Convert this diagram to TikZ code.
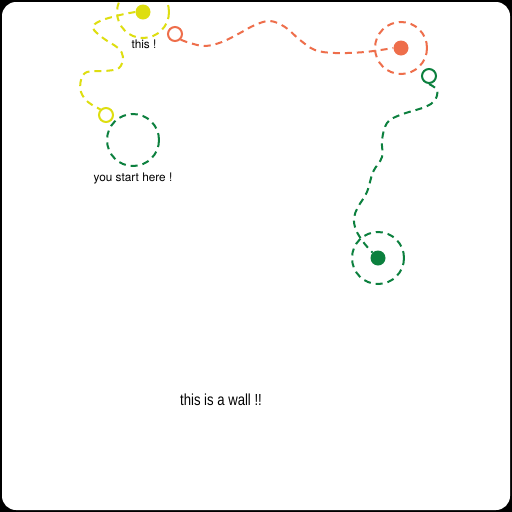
\documentclass[tikz,border=0pt]{standalone}
\usepackage{fontspec}
\setmainfont{TeX Gyre Heros}
\newfontfamily\wallfont[FakeStretch=0.82]{Liberation Sans}
\begin{document}
\begin{tikzpicture}[x=1pt,y=-1pt,
  ring/.style={circle,draw=#1,line width=2pt,minimum size=14pt,inner sep=0pt},
  dot/.style={circle,fill=#1,minimum size=15pt,inner sep=0pt},
  halo/.style={circle,draw=#1,line width=2pt,dash pattern=on 7pt off 5pt,minimum size=52pt,inner sep=0pt},
  trail/.style={draw=#1,line width=2pt,dash pattern=on 7pt off 5pt},
  lbl/.style={font=\fontsize{11.8}{13}\selectfont,text=black,inner sep=0pt}]
\definecolor{cy}{RGB}{222,222,16}
\definecolor{co}{RGB}{238,110,75}
\definecolor{cg}{RGB}{12,128,62}
\useasboundingbox (0,0) rectangle (512,512);
\fill[black] (0,0) rectangle (512,512);
\fill[white,rounded corners=14pt] (2,2) rectangle (510,510);
\begin{scope}
\clip[rounded corners=14pt] (2,2) rectangle (510,510);
% yellow
\node[halo=cy] (yhalo) at (143,12) {};
\node[dot=cy] (ydot) at (143,12) {};
\node[ring=cy] (yring) at (106,115) {};
\draw[trail=cy] plot[smooth,tension=0.6] coordinates {(ydot.west) (120,15) (100,21) (93,28) (103,38) (118,48) (123,57) (119,68) (105,71) (87,72) (81,80) (81,92) (88,102) (yring.north west)};
\node[lbl] (ythis) at (144,44) {this !};
% green start
\node[halo=cg] (ghalo1) at (133,140) {};
\node[lbl] (gstart) at (133,178) {you start here !};
% orange
\node[ring=co] (oring) at (175,34) {};
\node[halo=co] (ohalo) at (401,48) {};
\node[dot=co] (odot) at (401,48) {};
\draw[trail=co] plot[smooth,tension=0.6] coordinates {(oring.south east) (190,43) (205,46) (222,42) (240,33) (255,25) (270,21) (285,27) (300,40) (315,50) (335,53) (365,52) (odot.west)};
% green end
\node[ring=cg] (gring) at (429,76) {};
\node[halo=cg] (ghalo2) at (378,258) {};
\node[dot=cg] (gdot) at (378,258) {};
\draw[trail=cg] plot[smooth,tension=0.6] coordinates {(gring.south) (437,90) (435,100) (425,107) (400,115) (387,123) (382,140) (382,157) (373,172) (367,192) (358,207) (354,218) (356,230) (364,243) (gdot.north west)};
\node[font=\wallfont\fontsize{16}{18}\selectfont,inner sep=0pt] (wall) at (221,400) {this is a wall !!};
\end{scope}
\end{tikzpicture}
\end{document}
